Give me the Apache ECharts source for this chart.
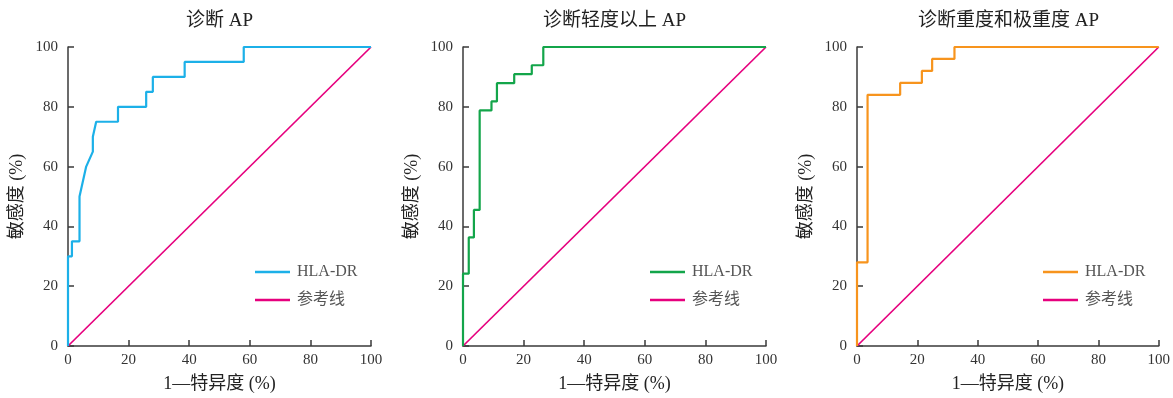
<!DOCTYPE html>
<html>
<head>
<meta charset="utf-8">
<script src="https://cdn.jsdelivr.net/npm/echarts@6/dist/echarts.min.js"></script>
<style>
html,body{margin:0;padding:0;background:#fff;overflow:hidden;}
#c{width:1173px;height:398px;}
</style>
</head>
<body>
<div id="c"></div>
<script>
const titles = ['诊断 AP', '诊断轻度以上 AP', '诊断重度和极重度 AP'];
const seriesNames = ['HLA-DR', '参考线'];
const xAxisName = '1—特异度 (%)';
const yAxisName = '敏感度 (%)';
const tickValues = [0, 20, 40, 60, 80, 100];

// chart 1: 诊断 AP
const fpr1 = [0, 0, 1.3, 1.3, 3.8, 3.8, 6.0, 8.2, 8.2, 9.3, 16.5, 16.5, 25.8, 25.8, 28.0, 28.0, 38.5, 38.5, 58.0, 58.0, 100];
const tpr1 = [0, 30, 30, 35, 35, 50, 60, 65, 70, 75, 75, 80, 80, 85, 85, 90, 90, 95, 95, 100, 100];
// chart 2: 诊断轻度以上 AP
const fpr2 = [0, 0, 1.9, 1.9, 3.6, 3.6, 5.5, 5.5, 9.4, 9.4, 11.2, 11.2, 16.9, 16.9, 22.7, 22.7, 26.5, 26.5, 100];
const tpr2 = [0, 24.2, 24.2, 36.3, 36.3, 45.5, 45.5, 78.8, 78.8, 81.8, 81.8, 87.9, 87.9, 90.9, 90.9, 93.9, 93.9, 100, 100];
// chart 3: 诊断重度和极重度 AP
const fpr3 = [0, 0, 3.5, 3.5, 14.3, 14.3, 21.5, 21.5, 24.9, 24.9, 32.3, 32.3, 100];
const tpr3 = [0, 28, 28, 84, 84, 88, 88, 92, 92, 96, 96, 100, 100];
// reference diagonal
const refX = [0, 100];
const refY = [0, 100];

const fprs = [fpr1, fpr2, fpr3];
const tprs = [tpr1, tpr2, tpr3];
const curveColors = ['#1cb0e8', '#13a54a', '#f7941d'];
const refColor = '#e6007e';

const gridLefts = [68, 463, 857];
const gridW = 303;
const gridTop = 47;
const gridH = 302;
const legendLefts = [255, 650, 1043];

const fontFam = '"Liberation Serif","Noto Sans CJK SC",serif';
const axisColor = '#3a3a3a';

const option = {
  animation: false,
  backgroundColor: '#fff',
  title: titles.map((t, i) => ({
    text: t,
    left: gridLefts[i] + gridW / 2,
    textAlign: 'center',
    top: 12,
    padding: 0,
    textStyle: {fontFamily: fontFam, fontSize: 19, fontWeight: 'normal', color: '#222'}
  })),
  legend: titles.map((t, i) => ({
    orient: 'vertical',
    left: legendLefts[i],
    top: 264,
    padding: 0,
    itemWidth: 35,
    itemHeight: 2.5,
    itemGap: 12,
    icon: 'rect',
    selectedMode: false,
    textStyle: {fontFamily: fontFam, fontSize: 16, color: '#555', padding: [0, 0, 0, 2]},
    data: [
      {name: seriesNames[0], itemStyle: {color: curveColors[i]}},
      {name: seriesNames[1], itemStyle: {color: refColor}}
    ]
  })),
  grid: gridLefts.map(l => ({left: l, top: gridTop, width: gridW, height: gridH})),
  xAxis: gridLefts.map((l, i) => ({
    type: 'value', gridIndex: i, min: 0, max: 100, interval: 20,
    name: xAxisName, nameLocation: 'middle', nameGap: 29,
    nameTextStyle: {fontFamily: fontFam, fontSize: 18, color: '#222'},
    axisLine: {lineStyle: {color: axisColor, width: 1.5}},
    axisTick: {inside: true, length: 6, lineStyle: {color: axisColor, width: 1.5}},
    axisLabel: {fontFamily: fontFam, fontSize: 15, color: '#333', margin: 7},
    splitLine: {show: false}
  })),
  yAxis: gridLefts.map((l, i) => ({
    type: 'value', gridIndex: i, min: 0, max: 100, interval: 20,
    name: yAxisName, nameLocation: 'middle', nameGap: 42,
    nameTextStyle: {fontFamily: fontFam, fontSize: 18, color: '#222'},
    axisLine: {lineStyle: {color: axisColor, width: 1.5}},
    axisTick: {inside: true, length: 6, lineStyle: {color: axisColor, width: 1.5}},
    axisLabel: {fontFamily: fontFam, fontSize: 15, color: '#333', margin: 10},
    splitLine: {show: false}
  })),
  series: []
};

for (let i = 0; i < 3; i++) {
  option.series.push({
    name: seriesNames[0], type: 'line', xAxisIndex: i, yAxisIndex: i,
    data: fprs[i].map((x, k) => [x, tprs[i][k]]),
    showSymbol: false, symbol: 'none',
    lineStyle: {color: curveColors[i], width: 2.2},
    itemStyle: {color: curveColors[i]},
    z: 3
  });
  option.series.push({
    name: seriesNames[1], type: 'line', xAxisIndex: i, yAxisIndex: i,
    data: refX.map((x, k) => [x, refY[k]]),
    showSymbol: false, symbol: 'none',
    lineStyle: {color: refColor, width: 1.7},
    itemStyle: {color: refColor},
    z: 2
  });
}

const chart = echarts.init(document.getElementById('c'), null, {renderer: 'canvas'});
chart.setOption(option);
</script>
</body>
</html>
